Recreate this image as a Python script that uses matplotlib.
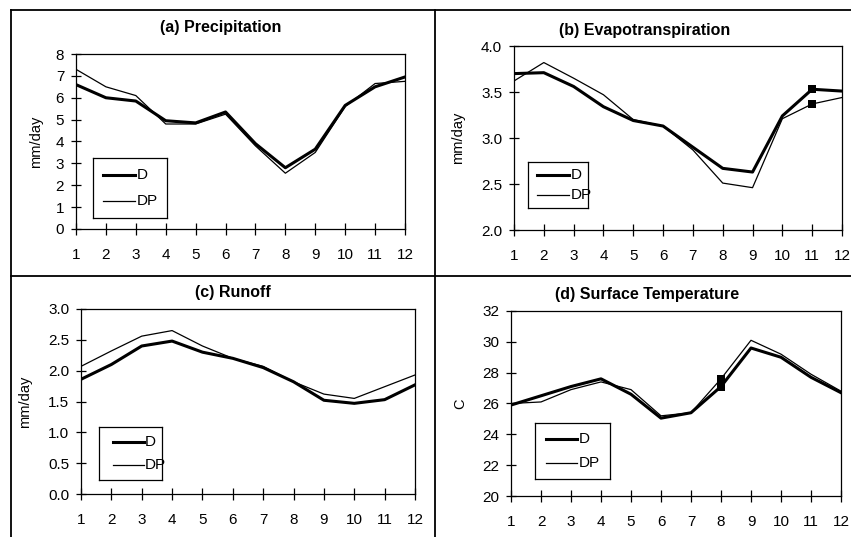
import matplotlib.pyplot as plt
from matplotlib.lines import Line2D

plt.rcParams['font.family'] = ['Liberation Sans', 'DejaVu Sans']

months = list(range(1, 13))

# (a) precipitation, mm/day
precip_d = [6.6, 6.0, 5.85, 4.95, 4.85, 5.35, 3.9, 2.8, 3.65, 5.65, 6.5, 6.95]
precip_dp = [7.3, 6.5, 6.1, 4.8, 4.8, 5.25, 3.8, 2.55, 3.5, 5.6, 6.65, 6.75]

# (b) evapotranspiration, mm/day
evap_d = [3.70, 3.71, 3.56, 3.34, 3.19, 3.13, 2.90, 2.67, 2.63, 3.24, 3.53, 3.51]
evap_dp = [3.62, 3.82, 3.65, 3.47, 3.20, 3.13, 2.87, 2.51, 2.46, 3.21, 3.37, 3.44]

# (c) runoff, mm/day
runoff_d = [1.86, 2.10, 2.40, 2.48, 2.30, 2.20, 2.05, 1.82, 1.52, 1.47, 1.53, 1.77]
runoff_dp = [2.07, 2.32, 2.56, 2.65, 2.40, 2.20, 2.07, 1.82, 1.62, 1.55, 1.74, 1.93]

# (d) surface temperature, C
temp_d = [25.9, 26.5, 27.1, 27.6, 26.6, 25.05, 25.4, 27.1, 29.6, 29.0, 27.7, 26.7]
temp_dp = [26.0, 26.1, 26.9, 27.4, 26.9, 25.2, 25.4, 27.6, 30.1, 29.2, 27.9, 26.8]

W, H = 851, 537
fig = plt.figure(figsize=(W / 100, H / 100), dpi=100)


def ax_px(x0, y0, x1, y1):
    # pixel box (top-left origin) -> figure fraction
    return fig.add_axes([x0 / W, 1 - y1 / H, (x1 - x0) / W, (y1 - y0) / H])


def panel(box, title, title_xy, d, dp, ylim, yticks, ylabel, label_x, fmt, mark, legbox, legline):
    ax = ax_px(*box)
    ax.plot(months, dp, color='black', lw=0.9)
    ax.plot(months, d, color='black', lw=2.2)
    if mark is not None:
        i = mark - 1
        ax.plot([mark, mark], [d[i], dp[i]], 's', color='black', ms=5.5, mew=0)
    ax.set_xlim(1, 12)
    ax.set_ylim(*ylim)
    ax.set_xticks(months)
    ax.set_yticks(yticks)
    ax.set_yticklabels([fmt.format(v) for v in yticks])
    ax.tick_params(axis='x', direction='inout', length=8, width=0.9, labelsize=11, pad=10)
    ax.tick_params(axis='y', direction='inout', length=7, width=0.9, labelsize=11, pad=5)
    for s in ax.spines.values():
        s.set_linewidth(0.9)
    # label_x is the wanted centre of the rotated label; the axis label anchors on its right side
    ax.set_ylabel(ylabel, fontsize=10.5)
    ax.yaxis.set_label_coords((label_x + 7 - box[0]) / (box[2] - box[0]), 0.5)
    fig.text(title_xy[0] / W, 1 - title_xy[1] / H, title,
             ha='center', va='center', fontsize=11.5, fontweight='bold')
    leg_ax = ax_px(*legbox)
    leg_ax.set_xlim(0, 1)
    leg_ax.set_ylim(0, 1)
    leg_ax.set_xticks([])
    leg_ax.set_yticks([])
    for s in leg_ax.spines.values():
        s.set_linewidth(0.9)
    l0, l1 = legline
    leg_ax.add_line(Line2D([l0, l1], [0.72, 0.72], color='black', lw=2.2))
    leg_ax.add_line(Line2D([l0, l1], [0.28, 0.28], color='black', lw=0.9))
    leg_ax.text(l1 + 0.02, 0.72, 'D', va='center', fontsize=11)
    leg_ax.text(l1 + 0.02, 0.28, 'DP', va='center', fontsize=11)
    return ax


panel((76, 54, 405, 229), '(a) Precipitation', (221, 28), precip_d, precip_dp,
      (0, 8), list(range(0, 9)), 'mm/day', 36, '{:.0f}', None,
      (93, 158, 167, 218), (0.14, 0.57))
panel((514, 46, 842, 230), '(b) Evapotranspiration', (645, 30), evap_d, evap_dp,
      (2.0, 4.0), [2.0, 2.5, 3.0, 3.5, 4.0], 'mm/day', 458, '{:.1f}', 11,
      (528, 162, 588, 208), (0.15, 0.69))
panel((81, 309, 415, 494), '(c) Runoff', (233, 293), runoff_d, runoff_dp,
      (0.0, 3.0), [0.0, 0.5, 1.0, 1.5, 2.0, 2.5, 3.0], 'mm/day', 25, '{:.1f}', None,
      (99, 427, 162, 480), (0.22, 0.71))
panel((511, 311, 841, 496), '(d) Surface Temperature', (647, 295), temp_d, temp_dp,
      (20, 32), list(range(20, 33, 2)), 'C', 460, '{:.0f}', 8,
      (535, 423, 610, 479), (0.15, 0.56))

# panel frame lines
frame = dict(color='black', lw=1.3, transform=fig.transFigure)
fig.add_artist(Line2D([11 / W, 1], [1 - 10 / H, 1 - 10 / H], **frame))
fig.add_artist(Line2D([11 / W, 11 / W], [0, 1 - 10 / H], **frame))
fig.add_artist(Line2D([435 / W, 435 / W], [0, 1 - 10 / H], **frame))
fig.add_artist(Line2D([11 / W, 1], [1 - 276 / H, 1 - 276 / H], **frame))

fig.savefig('out.png', dpi=100)
